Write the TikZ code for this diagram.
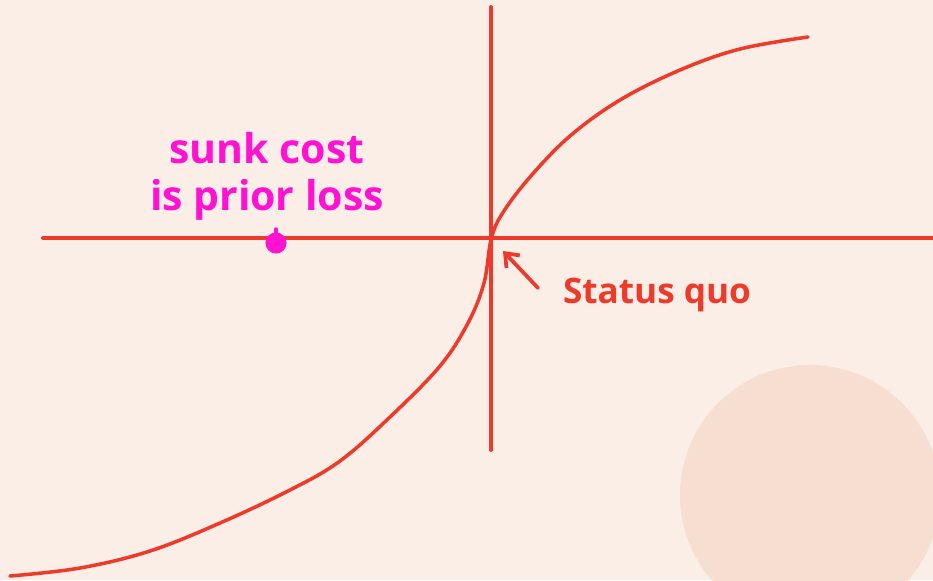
\documentclass[tikz,border=0pt]{standalone}
\usepackage{fontspec}
\setmainfont{Open Sans}
\usetikzlibrary{arrows.meta,positioning}
\definecolor{bgpeach}{HTML}{FBEEE6}
\definecolor{blobpeach}{HTML}{F6DFD0}
\definecolor{penred}{HTML}{EE3A2B}
\definecolor{penpink}{HTML}{FF12D2}
\tikzset{
  axisLine/.style={penred,line width=3.4pt,line cap=round},
  valueCurve/.style={penred,line width=3pt,line cap=round,line join=round},
  noteText/.style={align=center,inner sep=0pt,font=\bfseries\fontsize{35}{40}\selectfont},
  quoArrow/.style={-{Straight Barb[length=3.5mm,width=5.5mm]},penred,line width=3.2pt,line cap=round}
}

\begin{document}
\begin{tikzpicture}[x=0.03cm,y=-0.03cm]
  \fill[bgpeach] (0,0) rectangle (933,580);
  \useasboundingbox (0,0) rectangle (933,580);
  \begin{scope}
    \clip (0,0) rectangle (933,580);
    \fill[blobpeach] (810,495) circle[radius=130];
  \end{scope}
  % axes
  \coordinate (o) at (491,238);
  \coordinate (xl) at (43,238);
  \coordinate (xr) at (933,238);
  \coordinate (yt) at (491,7);
  \coordinate (yb) at (491,450);
  \draw[axisLine] (xl)--(xr) (yt)--(yb);
  % value curve
  \draw[valueCurve] plot[smooth,tension=0.6] coordinates {
    (10,576) (80,568) (150,551) (220,523) (290,490) (340,461)
    (390,417) (440,366) (468,323) (484,283) (491,240) (502,214)
    (530,177) (570,136) (620,100) (680,70) (740,49) (808,37)};
  % sunk cost
  \node[circle,fill=penpink,inner sep=0pt,minimum size=18pt] (dot) at (276,243) {};
  \draw[penpink,line width=3pt,line cap=round] (dot.center)--++(0,-14);
  \node[noteText,text=penpink] (sunk) at (267,176) {sunk cost\\is prior loss};
  % status quo
  \node[noteText,text=penred,font=\bfseries\fontsize{30}{36}\selectfont] (quo) at (657,295) {Status quo};
  \coordinate (tail) at (538,288);
  \coordinate (tip) at (503,251);
  \draw[quoArrow] (tail)--(tip);
\end{tikzpicture}
\end{document}
